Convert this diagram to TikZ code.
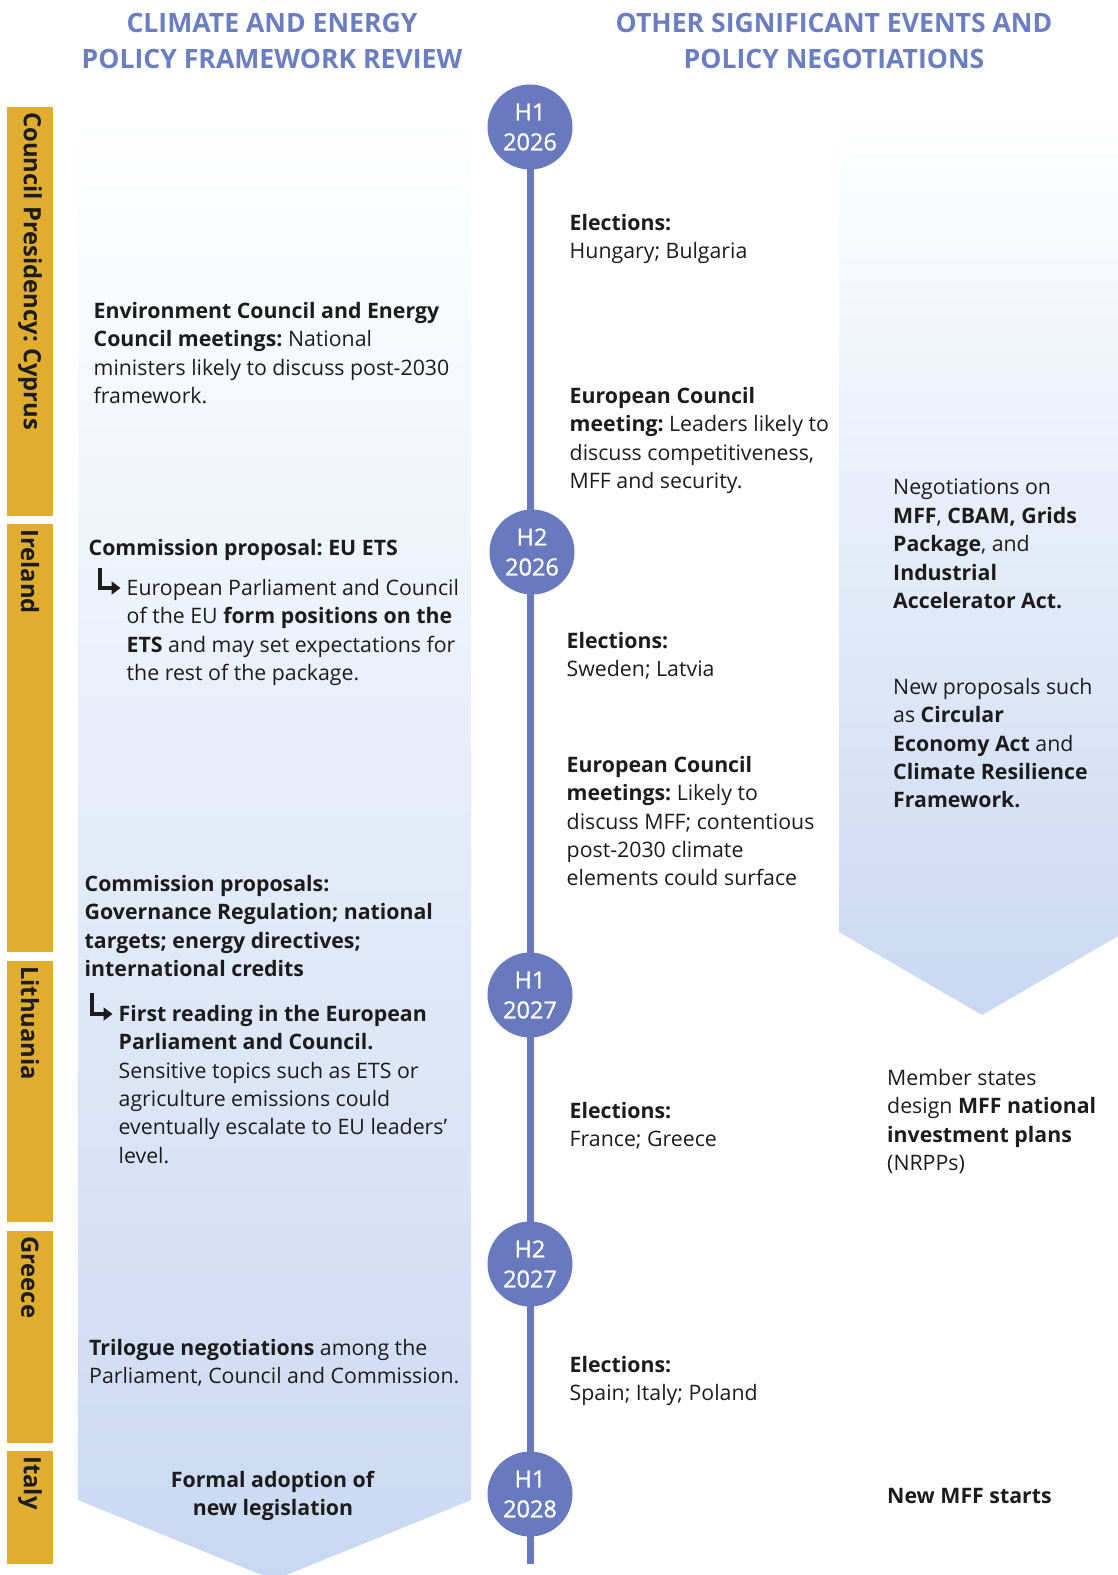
\documentclass[tikz,border=0pt]{standalone}
\usepackage{fontspec}
\setmainfont{Open Sans}
\usepackage{tikz}
\usetikzlibrary{calc,arrows.meta}

\definecolor{titleblue}{HTML}{6B7EC1}
\definecolor{dotblue}{HTML}{6879BD}
\definecolor{bargold}{HTML}{E0AD2F}
\definecolor{arrowblue}{HTML}{C9D8F2}
\definecolor{ink}{HTML}{1C1C1C}
\frenchspacing

\begin{document}
\begin{tikzpicture}[x=1pt,y=-1pt,
    body/.style={anchor=north west,inner sep=0pt,align=left,text=ink,
      font=\fontsize{21.3}{28.4}\selectfont},
    coltitle/.style={inner sep=0pt,align=center,text=titleblue,
      font=\fontsize{26.6}{36}\selectfont\bfseries},
    halfyear/.style={circle,fill=dotblue,minimum size=85pt,inner sep=0pt,
      align=center,text=white,font=\fontsize{23.5}{30}\selectfont\addfontfeatures{FakeBold=1}},
    presidency/.style={rotate=-90,anchor=west,inner sep=0pt,text=ink,
      font=\fontsize{23.8}{24}\selectfont\bfseries},
    timeline/.style={line width=7pt,dotblue},
    bentarrow/.style={line width=4pt,ink,-{Triangle[length=9pt,width=13pt]}}]
  \useasboundingbox (0,0) rectangle (1118,1575);
  \fill[white] (0,0) rectangle (1118,1575);

  % column titles
  \node[coltitle] (lefttitle) at (272,41) {CLIMATE AND ENERGY\\POLICY FRAMEWORK REVIEW};
  \node[coltitle] (righttitle) at (834,41) {OTHER SIGNIFICANT EVENTS AND\\POLICY NEGOTIATIONS};

  % big shaded arrows
  \shade[top color=white,bottom color=arrowblue]
    (78,118) -- (471,118) -- (471,1500) -- (274,1580) -- (78,1500) -- cycle;
  \shade[top color=white,bottom color=arrowblue]
    (839,108) -- (1125,108) -- (1125,932) -- (982,1015) -- (839,932) -- cycle;

  % presidencies
  \fill[bargold] (7,107) rectangle (53,516);
  \fill[bargold] (7,524) rectangle (53,952);
  \fill[bargold] (7,961) rectangle (53,1222);
  \fill[bargold] (7,1231) rectangle (53,1443);
  \fill[bargold] (7,1451) rectangle (53,1564);
  \node[presidency] (cyprus) at (30,112) {Council Presidency: Cyprus};
  \node[presidency] (ireland) at (30,529) {Ireland};
  \node[presidency] (lithuania) at (30,966) {Lithuania};
  \node[presidency] (greece) at (30,1236) {Greece};
  \node[presidency] (italy) at (30,1456) {Italy};

  % timeline
  \coordinate (tltop) at (530,127);
  \coordinate (tlend) at (530,1564);
  \draw[timeline] (tltop) -- (tlend);
  \node[halfyear] (h1a) at (530,127) {H1\\2026};
  \node[halfyear] (h2a) at (532,552) {H2\\2026};
  \node[halfyear] (h1b) at (530,995) {H1\\2027};
  \node[halfyear] (h2b) at (530,1264) {H2\\2027};
  \node[halfyear] (h1c) at (530,1494) {H1\\2028};

  % climate and energy column
  \node[body] (envcouncil) at (93.5,302) {\textbf{Environment Council and Energy}\\
    \textbf{Council meetings:} National\\ministers likely to discuss post-2030\\framework.};
  \node[body] (etsprop) at (88.5,539) {\textbf{Commission proposal: EU ETS}};
  \node[body] (etspos) at (126.5,579) {European Parliament and Council\\
    of the EU \textbf{form positions on the}\\\textbf{ETS} and may set expectations for\\
    the rest of the package.};
  \draw[bentarrow] ($(etspos.north west)+(-27,-11)$) |- ($(etspos.north west)+(-6,9)$);
  \node[body] (govprop) at (84.5,875) {\textbf{Commission proposals:}\\
    \textbf{Governance Regulation; national}\\\textbf{targets; energy directives;}\\
    \textbf{international credits}};
  \node[body] (firstread) at (118.5,1005) {\textbf{First reading in the European}\\
    \textbf{Parliament and Council.}\\Sensitive topics such as ETS or\\
    agriculture emissions could\\eventually escalate to EU leaders’\\level.};
  \draw[bentarrow] ($(firstread.north west)+(-27,-12)$) |- ($(firstread.north west)+(-6,9)$);
  \node[body] (trilogue) at (89,1339) {\textbf{Trilogue negotiations} among the\\
    Parliament, Council and Commission.};
  \node[body,anchor=north,align=center] (adoption) at (273,1471) {\textbf{Formal adoption of}\\
    \textbf{new legislation}};

  % events column
  \node[body] (elect1) at (569.5,214) {\textbf{Elections:}\\Hungary; Bulgaria};
  \node[body] (euco1) at (569.5,387) {\textbf{European Council}\\
    \textbf{meeting:} Leaders likely to\\discuss competitiveness,\\MFF and security.};
  \node[body] (elect2) at (566.5,632) {\textbf{Elections:}\\Sweden; Latvia};
  \node[body] (euco2) at (566.5,756) {\textbf{European Council}\\
    \textbf{meetings:} Likely to\\discuss MFF; contentious\\post-2030 climate\\
    elements could surface};
  \node[body] (elect3) at (569.5,1102) {\textbf{Elections:}\\France; Greece};
  \node[body] (elect4) at (569.5,1356) {\textbf{Elections:}\\Spain; Italy; Poland};

  % negotiations column
  \node[body] (negot) at (893,479) {Negotiations on\\\textbf{MFF}, \textbf{CBAM, Grids}\\
    \textbf{Package}, and\\\textbf{Industrial}\\\textbf{Accelerator Act.}};
  \node[body] (newprop) at (893,678) {New proposals such\\as \textbf{Circular}\\
    \textbf{Economy Act} and\\\textbf{Climate Resilience}\\\textbf{Framework.}};
  \node[body] (member) at (887,1069) {Member states\\design \textbf{MFF national}\\
    \textbf{investment plans}\\(NRPPs)};
  \node[body] (newmff) at (887,1488) {\textbf{New MFF starts}};
\end{tikzpicture}
\end{document}
